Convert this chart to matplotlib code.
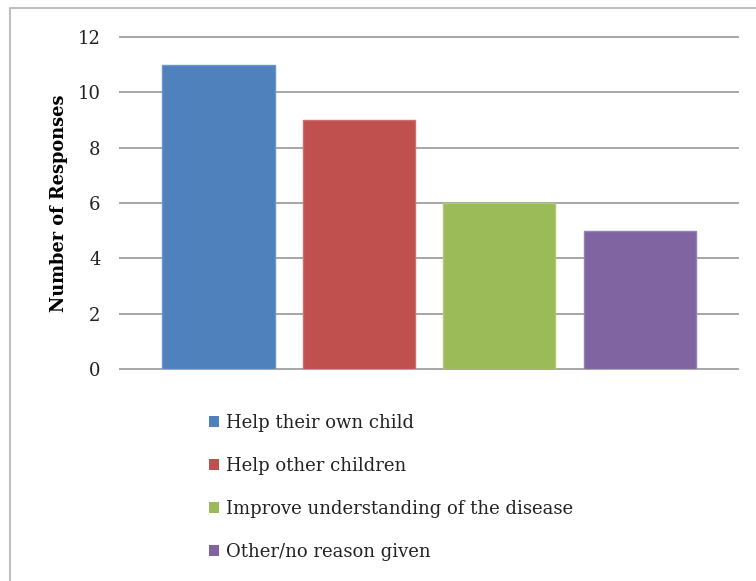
import matplotlib
matplotlib.use("Agg")
import matplotlib.pyplot as plt
from matplotlib.lines import Line2D
from matplotlib.patches import Patch

categories = ["Help their own child", "Help other children",
              "Improve understanding of the disease", "Other/no reason given"]
responses = [11, 9, 6, 5]
colors = ["#4f81bd", "#c0504d", "#9bbb59", "#8064a2"]
edge_colors = ["#6d96c8", "#cc6f6c", "#aec878", "#9580b3"]
y_ticks = [0, 2, 4, 6, 8, 10, 12]

plt.rcParams['font.family'] = ['DejaVu Serif']

W, H = 756, 581
fig = plt.figure(figsize=(W / 100, H / 100), dpi=100)

# plot area in pixels: x 120..738, y 37..369
ax = fig.add_axes([120 / W, 1 - 369 / H, (738 - 120) / W, (369 - 37) / H])

x = list(range(len(categories)))
ax.bar(x, responses, width=0.8, color=colors, edgecolor=edge_colors,
       linewidth=1, zorder=3)
ax.set_xlim(-0.7, 3.7)
ax.set_ylim(0, 12)
ax.set_yticks(y_ticks)
ax.set_yticklabels([str(t) for t in y_ticks], fontsize=13, color='#222222')
ax.set_xticks([])
ax.tick_params(axis='y', length=0, pad=14)
ax.yaxis.grid(True, color='#a6a6a6', linewidth=1.4, zorder=0)
for line in ax.get_ygridlines():
    line.set_clip_on(False)
for s in ax.spines.values():
    s.set_visible(False)
ax.set_ylabel("Number of Responses", fontsize=12.8, fontweight='bold')
ax.yaxis.set_label_coords(-52 / (738 - 120), 0.5)

# legend below the plot
handles = [Patch(facecolor=c, edgecolor='none') for c in colors]
leg = fig.legend(handles, categories, loc='upper left',
                 bbox_to_anchor=(193 / W, 1 - 398 / H), frameon=False,
                 fontsize=13, handlelength=0.55, handleheight=0.55,
                 handletextpad=0.35, labelspacing=1.38)
for t in leg.get_texts():
    t.set_color('#222222')

# chart border: only left and top edges are in frame
fig.add_artist(Line2D([10 / W, 10 / W, 1], [0, 1 - 8 / H, 1 - 8 / H],
                      transform=fig.transFigure, color='#bfbfbf',
                      linewidth=1.5))

fig.savefig("out.png", dpi=100)
